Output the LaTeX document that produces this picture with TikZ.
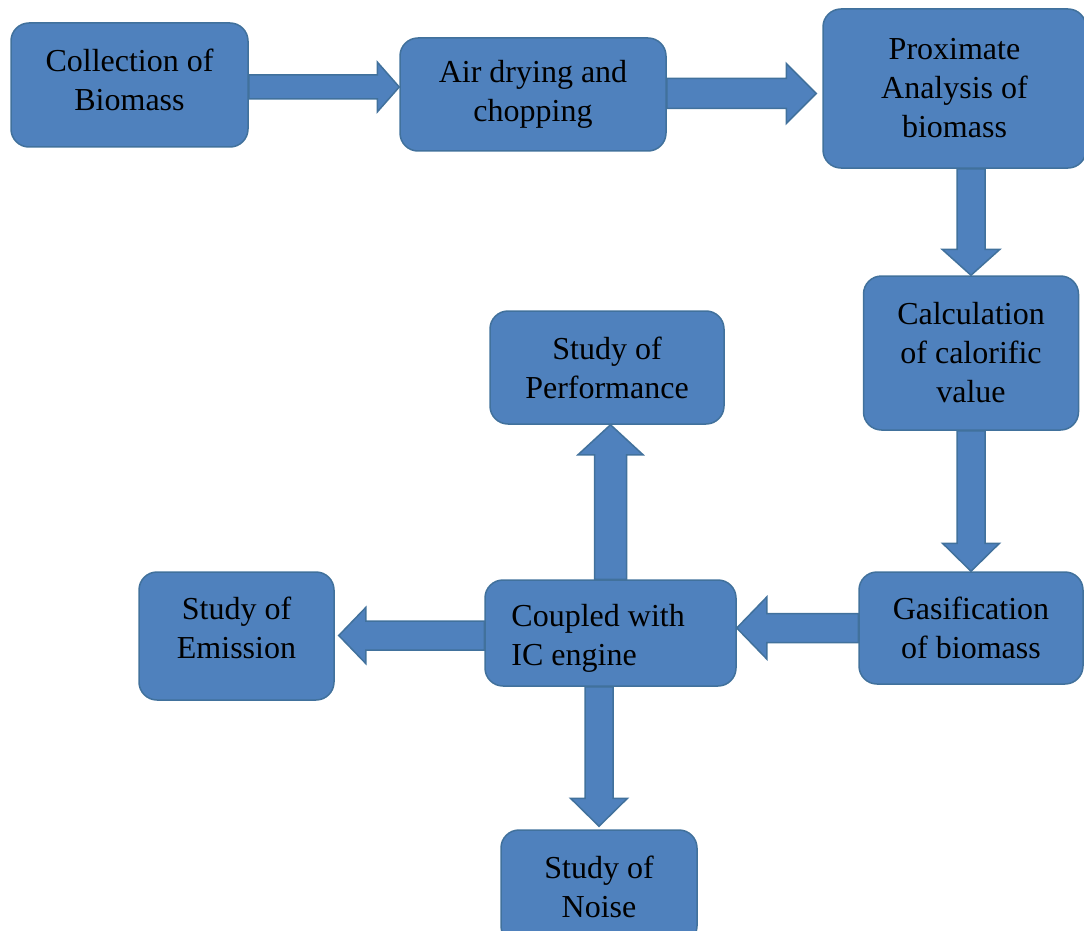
\documentclass[tikz,border=0pt]{standalone}
\usepackage{fontspec}
\setmainfont{Liberation Serif}
\usetikzlibrary{calc,backgrounds}
\definecolor{boxfill}{RGB}{79,129,189}
\definecolor{boxline}{RGB}{65,113,156}
\tikzset{
  flowbox/.style={draw=boxline, fill=boxfill, line width=1.5pt, rounded corners=18pt,
    inner sep=0pt, align=center, font=\fontsize{32}{39}\selectfont, text=black},
  boxtext/.style={inner sep=0pt, align=center, font=\fontsize{32}{39}\selectfont, text=black},
  blockarrow/.style={draw=boxline, fill=boxfill, line width=1.5pt, line join=miter}
}
% #1 start, #2 tip, #3 shaft half width, #4 head half width, #5 head length
\newcommand\blockarrow[5]{%
  \coordinate (tmpC) at ($(#2)!#5!(#1)$);
  \path[blockarrow] ($(#1)!#3!90:(#2)$) -- ($(tmpC)!#3!90:(#2)$) -- ($(tmpC)!#4!90:(#2)$)
    -- (#2) -- ($(tmpC)!#4!-90:(#2)$) -- ($(tmpC)!#3!-90:(#2)$) -- ($(#1)!#3!-90:(#2)$) -- cycle;
}
\begin{document}
\begin{tikzpicture}[x=1pt,y=-1pt]
\useasboundingbox (0,0) rectangle (1084,931);
\node[flowbox, minimum width=237pt, minimum height=124pt] (b1) at (129.5,85) {};
\node[boxtext] (b1t) at ([yshift=5pt]b1.center) {Collection of\\Biomass};
\node[flowbox, minimum width=266pt, minimum height=113pt] (b2) at (533,94.5) {Air drying and\\chopping};
\node[flowbox, minimum width=263pt, minimum height=159pt] (b3) at (954.5,88.5) {Proximate\\Analysis of\\biomass};
\node[flowbox, minimum width=215pt, minimum height=154pt] (b4) at (971,353) {Calculation\\of calorific\\value};
\node[flowbox, minimum width=224pt, minimum height=112pt] (b5) at (971,628) {Gasification\\of biomass};
\node[flowbox, minimum width=251pt, minimum height=106pt] (b6) at (610.5,633) {};
\node[boxtext, align=left, anchor=west] (b6t) at ([xshift=27pt,yshift=-5pt]b6.west) {Coupled with\\IC engine};
\node[flowbox, minimum width=234pt, minimum height=113pt] (b7) at (607,367.5) {Study of\\Performance};
\node[flowbox, minimum width=195pt, minimum height=128pt] (b8) at (236.5,636) {};
\node[boxtext] (b8t) at ([yshift=8pt]b8.center) {Study of\\Emission};
\node[flowbox, minimum width=196pt, minimum height=114pt] (b9) at (599,887) {Study of\\Noise};

\begin{scope}[on background layer]
  % 1 -> 2
  \coordinate (a1s) at ([yshift=-2pt]b1.east);
  \coordinate (a1t) at (b2.west |- a1s);
  \blockarrow{a1s}{a1t}{12pt}{25pt}{22pt}
  % 2 -> 3
  \coordinate (a2s) at ([yshift=1pt]b2.east);
  \coordinate (a2t0) at (b3.west |- a2s);
  \coordinate (a2t) at ([xshift=-6pt]a2t0);
  \blockarrow{a2s}{a2t}{15pt}{30pt}{30pt}
  % 3 -> 4
  \coordinate (a3s) at (b4.north |- b3.south);
  \blockarrow{a3s}{b4.north}{14pt}{29pt}{26pt}
  % 4 -> 5
  \blockarrow{b4.south}{b5.north}{14pt}{28.5pt}{28pt}
  % 5 -> 6
  \coordinate (a5t) at (b6.east |- b5.west);
  \blockarrow{b5.west}{a5t}{14.5pt}{31pt}{30pt}
  % 6 -> 7
  \coordinate (a6t) at (b6.north |- b7.south);
  \blockarrow{b6.north}{a6t}{16pt}{32.5pt}{30pt}
  % 6 -> 8
  \coordinate (a7s) at ([yshift=-2.5pt]b6.west);
  \coordinate (a7t0) at (b8.east |- a7s);
  \coordinate (a7t) at ([xshift=4pt]a7t0);
  \blockarrow{a7s}{a7t}{14.5pt}{28pt}{27pt}
  % 6 -> 9
  \coordinate (a8s) at (b9.north |- b6.south);
  \coordinate (a8t) at ([yshift=3pt]b9.north);
  \blockarrow{a8s}{a8t}{14pt}{28.5pt}{28pt}
\end{scope}
\end{tikzpicture}
\end{document}
